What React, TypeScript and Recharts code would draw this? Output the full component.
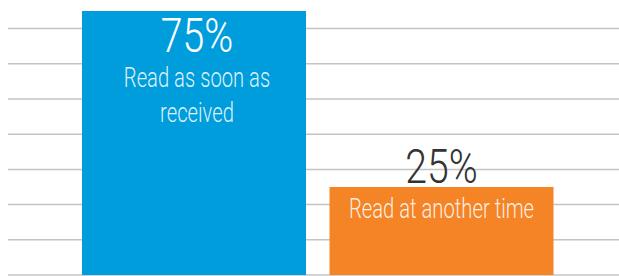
import React from "react";
import { BarChart, Bar, XAxis, YAxis, CartesianGrid, Cell, LabelList } from "recharts";

const categories = ["Read as soon as received", "Read at another time"];
const shares = [75, 25];
const valueLabels = ["75%", "25%"];
const captionLines = [["Read as soon as", "received"], ["Read at another time"]];
const barColors = ["#009ddc", "#f58426"];
const yTicks = [0, 10, 20, 30, 40, 50, 60, 70];

const data = categories.map((c, i) => ({ category: c, share: shares[i] }));

const FONT = "Roboto, 'Liberation Sans', sans-serif";

function gridRows(args: any) {
  const yAxis = args && args.yAxis;
  const scale = yAxis && yAxis.scale;
  if (typeof scale === "function") return yTicks.map((t) => scale(t));
  const off = args.offset;
  return yTicks.map((t) => off.top + off.height * (1 - t / 75));
}

function renderLabel(props: any) {
  const { x, y, width, height, index } = props;
  const i = index ?? 0;
  const cx = Number(x) + Number(width) / 2;
  const top = Number(y);
  const tall = Number(height) > 150;
  const pctBaseline = tall ? top + 41 : top - 4.5;
  const capBaseline = tall ? top + 76 : top + 30.5;
  const shift = tall ? 3 : 0;
  const pctColor = tall ? "#ffffff" : "#333333";
  const lines = captionLines[i] || [];
  return (
    <g>
      <g transform={`translate(${cx + shift},${pctBaseline}) scale(0.8,1)`}>
        <text x={0} y={0} textAnchor="middle" fontFamily={FONT} fontWeight={300} fontSize={49} fill={pctColor}>
          {valueLabels[i]}
        </text>
      </g>
      {lines.map((ln, k) => (
        <g key={k} transform={`translate(${cx + shift},${capBaseline + k * 34.5}) scale(0.71,1)`}>
          <text x={0} y={0} textAnchor="middle" fontFamily={FONT} fontWeight={300} fontSize={28.5} fill="#ffffff" fillOpacity={0.88}>
            {ln}
          </text>
        </g>
      ))}
    </g>
  );
}

export default function App() {
  return (
    <div style={{ position: "absolute", left: 0, top: 0 }}>
      <BarChart
        width={619}
        height={276}
        data={data}
        margin={{ top: 11, right: 0, bottom: 1, left: 8 }}
        barCategoryGap={12}
      >
        <CartesianGrid vertical={false} stroke="#c4c4c4" strokeWidth={1.5} horizontalCoordinatesGenerator={gridRows} />
        <XAxis dataKey="category" hide padding={{ left: 62, right: 54 }} />
        <YAxis hide domain={[0, 75]} ticks={yTicks} />
        <Bar dataKey="share" isAnimationActive={false}>
          {data.map((d, i) => (
            <Cell key={d.category} fill={barColors[i]} />
          ))}
          <LabelList dataKey="share" content={renderLabel} />
        </Bar>
      </BarChart>
    </div>
  );
}
